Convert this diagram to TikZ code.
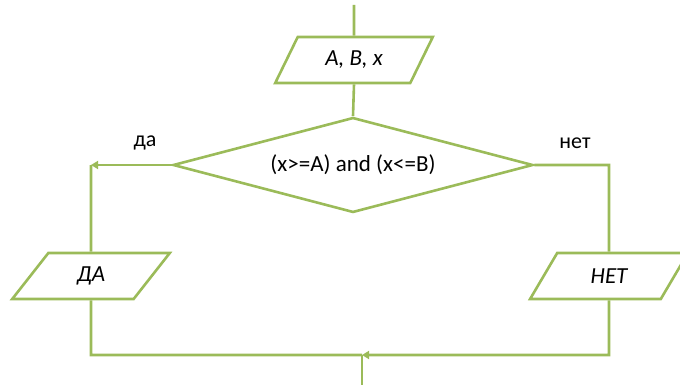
\documentclass[tikz,border=0pt]{standalone}
\usepackage{fontspec}
\setmainfont{Carlito}
\usepackage{tikz}
\usetikzlibrary{shapes.geometric,arrows.meta,positioning,calc}
\definecolor{flow}{HTML}{9BBB59}

\begin{document}
\begin{tikzpicture}[
  x=1pt, y=-1pt,
  font=\fontsize{23}{27}\selectfont,
  every node/.style={align=center},
  io/.style={trapezium,trapezium left angle=57,trapezium right angle=123,
             trapezium stretches=true,draw=flow,line width=2.6pt,fill=white,
             minimum width=158pt,minimum height=46pt,inner sep=0pt,
             font=\fontsize{23}{27}\selectfont\itshape},
  cond/.style={diamond,aspect=3.79,draw=flow,line width=2.6pt,fill=white,
               minimum width=360pt,minimum height=95pt,inner sep=0pt},
  line/.style={draw=flow,line width=2.6pt},
  arr/.style={line,-{Triangle[length=7pt,width=8pt]}},
  lbl/.style={font=\fontsize{22}{26}\selectfont}
]
\useasboundingbox (0,0) rectangle (680,385);

% input and condition
\coordinate (start) at (354,5);
\node[io] (inp) at (354,60) {A, B, x};
\node[cond] (test) at (353,165) {(x>=A) and (x<=B)};

% branches
\node[io] (yes) at (91,276) {ДА};
\node[io] (no) at (609,276) {НЕТ};

\coordinate (yesc) at (91,165);
\coordinate (noc) at (609,165);
\coordinate (yesb) at (91,355);
\coordinate (nob) at (609,355);
\coordinate (join) at (362,355);
\coordinate (finish) at (362,385);

\draw[line] (start) -- (inp.north);
\draw[line] (inp.south) -- (test.north);

\draw[arr] (test.west) -- (yesc);
\draw[line] (yesc) -- (yes.north);
\draw[line] (test.east) -- (noc) -- (no.north);

\draw[line] (yes.south) -- (yesb) -- (join);
\draw[arr] (no.south) -- (nob) -- (join);
\draw[line] (join) -- (finish);

\node[lbl] (yeslbl) at (145,143) {да};
\node[lbl] (nolbl) at (575,143) {нет};
\end{tikzpicture}
\end{document}
